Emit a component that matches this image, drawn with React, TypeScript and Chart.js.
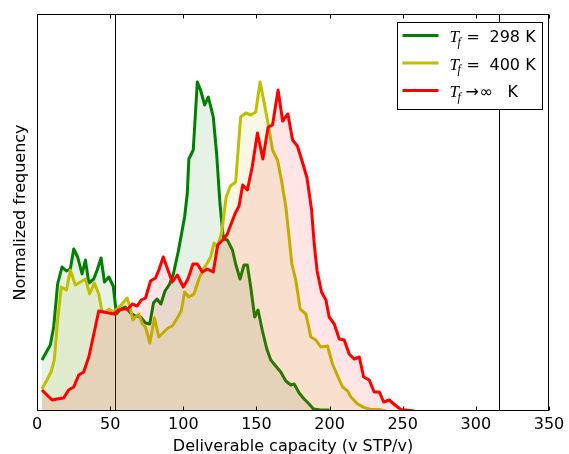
import React, { useEffect, useRef } from 'react';
import { Chart, registerables } from 'chart.js';

Chart.register(...registerables);

// ---- data ----
const xTicks = [0, 50, 100, 150, 200, 250, 300, 350];
const markerLines = [53.3, 315.8];

const legendOps = ['=', '=', '→∞'];
const legendTails = ['298 K', '400 K', 'K'];
const seriesLabels = ['T_f = 298 K', 'T_f = 400 K', 'T_f → ∞ K'];
const seriesColors = ['#008000', '#bfbf00', '#ff0000'];
const seriesFills = ['rgba(0,128,0,0.1)', 'rgba(191,191,0,0.1)', 'rgba(255,0,0,0.1)'];

const greenX = [3.4, 9.1, 11.4, 14.1, 17.1, 20.1, 22.8, 25.1, 27.8, 30.8, 33.1, 35.4, 38.8, 41.1, 43.8, 46.1, 49.1, 52.1, 54.3, 57.1, 60.5, 63.9, 67.3, 70.8, 74.2, 77.1, 79.6, 82, 84.7, 87.5, 90.7, 93.2, 96.5, 98.9, 100.9, 102.7, 103.8, 106.8, 109.6, 111.8, 114.6, 117.1, 120.5, 122.8, 125.1, 127.4, 130.1, 133.6, 135.8, 138.8, 141.5, 143.8, 146.1, 148.8, 151.1, 154.1, 157.1, 159.8, 163.2, 166.6, 170.1, 173.5, 175.8, 179.2, 182.6, 186, 189, 194, 200];
const greenY = [51, 66, 84, 127, 144, 140, 142, 162, 154, 137, 151, 128, 132, 141, 153, 129, 134, 125, 97, 102, 104, 98, 95, 94, 88, 87, 108, 112, 107, 120, 127, 137, 159, 178, 194, 217, 252, 261, 329, 321, 306, 314, 294, 257, 207, 172, 171, 161, 147, 132, 146, 146, 124, 94, 101, 80, 62, 51, 45, 39, 30, 26, 27, 18, 12, 7, 2, 1, 1];

const yellowX = [3.4, 6.8, 9.6, 11.8, 14.1, 16.6, 20.1, 22.8, 26.2, 29.7, 33.1, 36, 39.2, 42.2, 44.5, 46.8, 49.1, 52.5, 54.8, 58.2, 61.6, 63.9, 65.5, 67.3, 69.6, 72, 74.2, 77.1, 80.3, 83.3, 86.7, 89.5, 92.5, 95.9, 98.6, 100.9, 103.8, 107.3, 110.7, 113.7, 116.4, 118.7, 121, 123.3, 126.2, 129.3, 132.2, 135.8, 139.2, 142.7, 146.1, 149.5, 152.5, 155.2, 158, 161, 164.4, 167.1, 170.1, 172.3, 174.2, 176.9, 179.9, 183.8, 187.2, 190.6, 194, 198.6, 202, 205.5, 208.9, 212.3, 214.6, 219.2, 223.7, 228.3, 234, 238.5];
const yellowY = [22, 31, 39, 51, 91, 124, 121, 141, 126, 129, 132, 117, 128, 117, 99, 99, 102, 99, 102, 107, 113, 102, 91, 94, 97, 87, 84, 68, 93, 74, 79, 83, 85, 93, 100, 119, 114, 117, 132, 142, 148, 154, 168, 164, 178, 214, 225, 229, 294, 298, 296, 299, 329, 309, 287, 261, 251, 231, 204, 174, 147, 131, 102, 97, 74, 71, 64, 65, 47, 35, 24, 20, 14, 7, 3.4, 1.5, 1.5, 0];

const redX = [3.4, 6.8, 10.3, 13.7, 18.2, 21.6, 25.1, 28.5, 31.9, 35.4, 38.4, 42.2, 45.6, 49.1, 52.5, 55.9, 59.3, 62.1, 65.1, 68.5, 71.2, 74.2, 77.6, 81, 83.3, 86.3, 89.5, 92.5, 95.9, 100, 103.2, 106.6, 109.6, 113, 116.4, 120.5, 123.5, 127, 130.1, 132.4, 135.3, 138.1, 140.6, 143.8, 147.1, 150.7, 154.4, 158, 161, 164.8, 167.9, 171.5, 174.7, 178, 181.2, 184.6, 187.7, 189.5, 191.5, 194.5, 197.5, 199.7, 203.2, 206.6, 210, 213.4, 216.8, 220.3, 223.3, 227.1, 230.5, 234, 237, 240.8, 244.7, 248.8, 253.4, 258];
const redY = [21, 16, 11, 12, 13, 21, 24, 36, 39, 54, 74, 100, 99, 98, 97, 101, 102, 102, 107, 105, 111, 113, 130, 133, 141, 154, 141, 129, 136, 124, 132, 147, 147, 139, 142, 139, 166, 171, 177, 186, 197, 205, 226, 221, 244, 278, 252, 284, 286, 321, 290, 297, 271, 265, 250, 233, 201, 167, 140, 119, 111, 94, 87, 72, 71, 57, 52, 54, 34, 31, 19, 19, 9, 11, 6, 1.5, 0.7, 0];

const toPoints = (xs: number[], ys: number[]) => xs.map((x, i) => ({ x, y: ys[i] }));

const FONT = '"DejaVu Sans", sans-serif';

const framePlugin = {
  id: 'mplFrame',
  beforeDatasetsDraw(chart: any) {
    const { ctx, chartArea: ca, scales } = chart;
    ctx.save();
    ctx.strokeStyle = '#000';
    ctx.lineWidth = 1;
    markerLines.forEach((v) => {
      const px = Math.round(scales.x.getPixelForValue(v)) + 0.5;
      ctx.beginPath();
      ctx.moveTo(px, ca.top);
      ctx.lineTo(px, ca.bottom);
      ctx.stroke();
    });
    ctx.restore();
  },
  afterDatasetsDraw(chart: any) {
    const { ctx, chartArea: ca, scales } = chart;
    ctx.save();
    ctx.strokeStyle = '#000';
    ctx.lineWidth = 1;
    const l = Math.round(ca.left) + 0.5;
    const t = Math.round(ca.top) + 0.5;
    const r = Math.round(ca.right) - 0.5;
    const b = Math.round(ca.bottom) - 0.5;
    ctx.strokeRect(l, t, r - l, b - t);
    xTicks.forEach((v) => {
      const px = Math.round(scales.x.getPixelForValue(v)) + 0.5;
      ctx.beginPath();
      ctx.moveTo(px, b);
      ctx.lineTo(px, b - 4);
      ctx.moveTo(px, t);
      ctx.lineTo(px, t + 4);
      ctx.stroke();
    });
    ctx.restore();
  },
};

const legendPlugin = {
  id: 'mplLegend',
  afterDraw(chart: any) {
    const { ctx, chartArea: ca } = chart;
    const bw = 145;
    const bh = 87;
    const bx = Math.round(ca.right - 7 - bw) + 0.5;
    const by = Math.round(ca.top + 8) + 0.5;
    ctx.save();
    ctx.fillStyle = '#fff';
    ctx.fillRect(bx, by, bw, bh);
    ctx.strokeStyle = '#000';
    ctx.lineWidth = 1;
    ctx.strokeRect(bx, by, bw, bh);
    seriesColors.forEach((c, i) => {
      const cy = by + 13 + i * 27.5;
      ctx.strokeStyle = c;
      ctx.lineWidth = 3;
      ctx.beginPath();
      ctx.moveTo(bx + 5, cy);
      ctx.lineTo(bx + 41, cy);
      ctx.stroke();
      const tx = bx + 52;
      const base = cy + 6.5;
      ctx.fillStyle = '#000';
      ctx.textBaseline = 'alphabetic';
      ctx.textAlign = 'left';
      ctx.font = 'italic 17px "Liberation Serif"';
      ctx.fillText('T', tx, base);
      ctx.font = 'italic 12px "Liberation Serif"';
      ctx.fillText('f', tx + 8, base + 3.5);
      const op = legendOps[i];
      ctx.font = '16px "DejaVu Sans"';
      if (op === '=') {
        ctx.fillText('=', tx + 17, base);
        ctx.font = '16px ' + FONT;
        ctx.fillText(legendTails[i], tx + 40, base);
      } else {
        ctx.fillText('→', tx + 16, base);
        ctx.fillText('∞', tx + 30, base);
        ctx.font = '16px ' + FONT;
        ctx.fillText(legendTails[i], tx + 58, base);
      }
    });
    ctx.restore();
  },
};

export default function App() {
  const canvasRef = useRef<HTMLCanvasElement | null>(null);

  useEffect(() => {
    document.body.style.margin = '0';
    const canvas = canvasRef.current;
    if (!canvas) return;
    const seriesData = [toPoints(greenX, greenY), toPoints(yellowX, yellowY), toPoints(redX, redY)];
    const datasets = seriesData.map((d, i) => ({
      label: seriesLabels[i],
      data: d,
      borderColor: seriesColors[i],
      backgroundColor: seriesFills[i],
      fill: 'origin',
      borderWidth: 3,
      pointRadius: 0,
      tension: 0,
      order: 2 - i,
    }));
    const chart = new Chart(canvas, {
      type: 'line',
      data: { datasets: datasets as any },
      plugins: [framePlugin, legendPlugin],
      options: {
        animation: false,
        responsive: false,
        maintainAspectRatio: false,
        events: [],
        elements: {
          line: { borderJoinStyle: 'round', borderCapStyle: 'butt' },
          point: { radius: 0 },
        },
        layout: { padding: { left: 0, right: 20, top: 14, bottom: 0 } },
        scales: {
          x: {
            type: 'linear',
            min: 0,
            max: 350,
            afterBuildTicks: (s: any) => {
              s.ticks = xTicks.map((v) => ({ value: v }));
            },
            afterFit: (s: any) => {
              s.height = 43;
            },
            grid: { display: false, drawTicks: false },
            border: { display: false },
            ticks: {
              color: '#000',
              font: { family: FONT, size: 16 },
              padding: 4,
              maxRotation: 0,
              autoSkip: false,
            },
            title: {
              display: true,
              text: 'Deliverable capacity (v STP/v)',
              color: '#000',
              font: { family: FONT, size: 16 },
              padding: { top: 0, bottom: -2 },
            },
          },
          y: {
            type: 'linear',
            min: 0,
            max: 397,
            afterFit: (s: any) => {
              s.width = 37;
            },
            grid: { display: false, drawTicks: false },
            border: { display: false },
            ticks: { display: false },
            title: {
              display: true,
              text: 'Normalized frequency',
              color: '#000',
              font: { family: FONT, size: 16 },
              padding: { top: 11, bottom: 0 },
            },
          },
        },
        plugins: {
          legend: { display: false },
          tooltip: { enabled: false },
        },
      },
    });
    return () => chart.destroy();
  }, []);

  return (
    <div style={{ position: 'relative', width: 569, height: 454, background: '#fff' }}>
      <canvas ref={canvasRef} width={569} height={454} style={{ width: 569, height: 454, display: 'block' }} />
    </div>
  );
}
